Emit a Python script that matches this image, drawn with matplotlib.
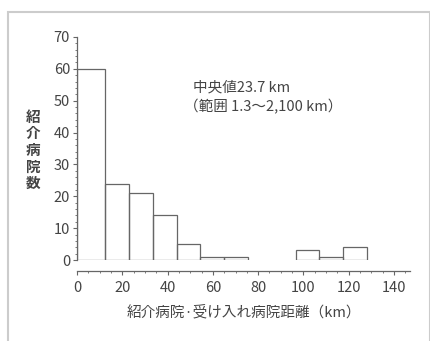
import matplotlib.pyplot as plt
from matplotlib.ticker import MultipleLocator
from matplotlib.patches import Rectangle
import numpy as np

plt.rcParams['font.family'] = ['Noto Sans CJK JP', 'DejaVu Sans']

# bin edges (km) and counts
edges = [0, 12.5, 23, 33.5, 44, 54.5, 65, 75.5, 86, 96.5, 107, 117.5, 128]
counts = [60, 24, 21, 14, 5, 1, 1, 0, 0, 3, 1, 4]

xticks = [0, 20, 40, 60, 80, 100, 120, 140]
yticks = [0, 10, 20, 30, 40, 50, 60, 70]

gray = '#666666'
txt = '#444444'

fig = plt.figure(figsize=(4.31, 3.41), dpi=100)
ax = fig.add_axes([0.1787, 0.2375, 0.951 - 0.1787, 0.8915 - 0.2375])

left = np.array(edges[:-1])
widths = np.diff(edges)
c = np.array(counts)
keep = c > 0
ax.bar(left[keep], c[keep], width=widths[keep], align='edge',
       fill=False, edgecolor=gray, linewidth=0.9)

ax.set_xlim(0, 147)
ax.set_ylim(0, 70)
ax.set_xticks(xticks)
ax.set_yticks(yticks)
ax.xaxis.set_minor_locator(MultipleLocator(5))
ax.yaxis.set_minor_locator(MultipleLocator(2))

for s in ['top', 'right']:
    ax.spines[s].set_visible(False)
ax.spines['bottom'].set_position(('outward', 8))
for s in ['left', 'bottom']:
    ax.spines[s].set_color(gray)
    ax.spines[s].set_linewidth(0.9)

ax.tick_params(which='major', direction='out', length=3, color=gray,
               labelsize=10.5, labelcolor=txt, pad=2)
ax.tick_params(which='minor', direction='out', length=1.5, color=gray)
ax.tick_params(axis='x', pad=4)

ax.set_xlabel('紹介病院·受け入れ病院距離（km）', fontsize=10.5, color=txt, labelpad=7)
fig.text(33 / 431, 1 - 150 / 341, '\n'.join('紹介病院数'), fontsize=10.5,
         color=txt, ha='center', va='center', linespacing=1.05, weight='bold')

fig.text(193 / 431, 1 - 87 / 341, '中央値23.7 km',
         fontsize=10.5, color=txt, ha='left', va='center')
fig.text(184 / 431, 1 - 107 / 341, '（範囲 1.3〜2,100 km）',
         fontsize=10.5, color=txt, ha='left', va='center')

# light frame around the figure
fig.patches.append(Rectangle((8 / 431, -0.05), (430 - 8) / 431, 1.05 - 12 / 341,
                             transform=fig.transFigure, fill=False,
                             edgecolor='#cccccc', linewidth=1.5))

fig.savefig('out.png', dpi=100)
